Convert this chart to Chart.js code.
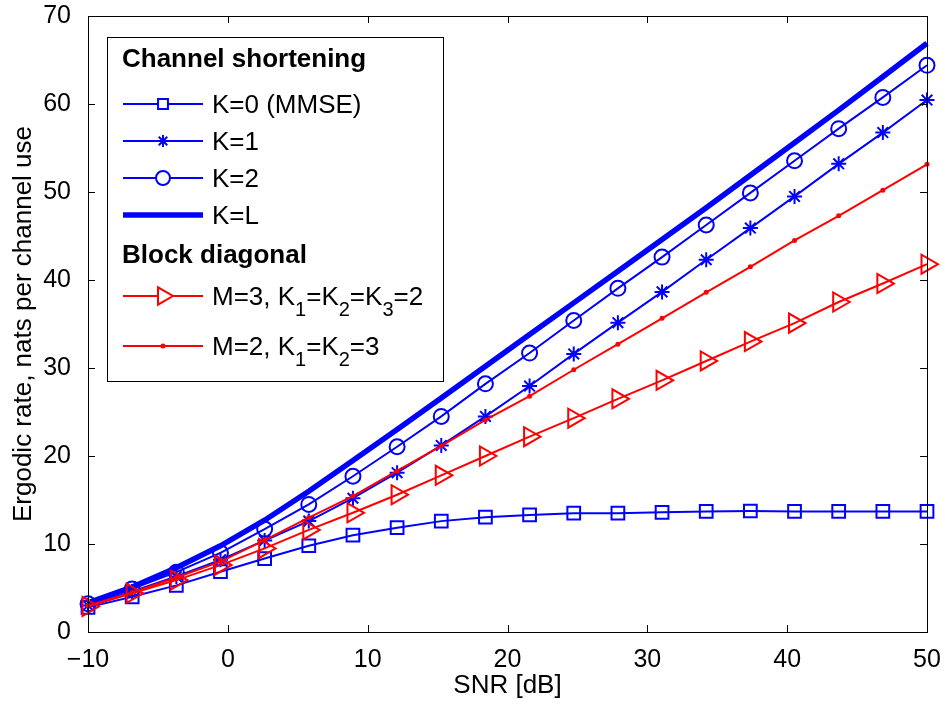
<!DOCTYPE html>
<html>
<head>
<meta charset="utf-8">
<script src="https://cdn.jsdelivr.net/npm/chart.js@4.4.0/dist/chart.umd.min.js"></script>
<style>
  html, body { margin: 0; padding: 0; background: #fff; }
  #wrap { width: 945px; height: 704px; }
</style>
</head>
<body>
<div id="wrap"><canvas id="rateChart" width="945" height="704"></canvas></div>
<script>
// SNR [dB] de cada punto
const snr = [-10, -6.842, -3.684, -0.526, 2.632, 5.789, 8.947, 12.105, 15.263, 18.421,
  21.579, 24.737, 27.895, 31.053, 34.211, 37.368, 40.526, 43.684, 46.842, 50];

// Channel shortening
const kMmse = [2.8, 4.0, 5.3, 6.85, 8.35, 9.8, 11.0, 11.85, 12.6, 13.05,
  13.3, 13.5, 13.5, 13.6, 13.7, 13.75, 13.7, 13.7, 13.7, 13.7];
const k1 = [3.0, 4.6, 6.3, 8.2, 10.4, 12.6, 15.2, 18.1, 21.2, 24.5,
  27.95, 31.6, 35.15, 38.65, 42.3, 45.9, 49.5, 53.2, 56.75, 60.45];
const k2 = [3.2, 4.9, 6.8, 9.0, 11.7, 14.5, 17.7, 21.05, 24.5, 28.2,
  31.7, 35.4, 39.05, 42.6, 46.25, 49.9, 53.55, 57.2, 60.75, 64.4];
const kL = [3.3, 5.1, 7.3, 9.8, 12.7, 16.0, 19.5, 23.0, 26.6, 30.2,
  33.8, 37.4, 41.0, 44.6, 48.2, 51.9, 55.6, 59.3, 63.1, 66.9];

// Block diagonal
const m3 = [2.9, 4.4, 5.9, 7.6, 9.5, 11.6, 13.55, 15.6, 17.8, 20.0,
  22.2, 24.3, 26.5, 28.6, 30.8, 33.0, 35.1, 37.5, 39.6, 41.8];
const m2 = [3.0, 4.5, 6.2, 8.0, 10.45, 13.0, 15.45, 18.3, 21.15, 24.1,
  26.8, 29.8, 32.7, 35.65, 38.6, 41.5, 44.5, 47.3, 50.2, 53.15];

// Ejes
const xMin = -10, xMax = 50, xStep = 10;
const yMin = 0, yMax = 70, yStep = 10;

const azul = '#0000FF';
const rojo = '#FF0000';
const fuente = "'Liberation Sans', Arial, Helvetica, sans-serif";
const nada = 'rgba(0,0,0,0)';

Chart.defaults.font.family = fuente;

const toPoints = ys => ys.map((y, i) => ({ x: snr[i], y }));

// Entradas de la leyenda (partes: [texto, esSubindice])
const leyenda = [
  { title: 'Channel shortening', base: 67 },
  { parts: [['K=0 (MMSE)']], color: azul, line: 2, style: 'rect', radius: 7, base: 113 },
  { parts: [['K=1']], color: azul, line: 2, style: 'star', radius: 6, base: 150 },
  { parts: [['K=2']], color: azul, line: 2, style: 'circle', radius: 7, base: 187 },
  { parts: [['K=L']], color: azul, line: 5.5, style: null, base: 224 },
  { title: 'Block diagonal', base: 263 },
  { parts: [['M=3, K'], ['1', true], ['=K'], ['2', true], ['=K'], ['3', true], ['=2']],
    color: rojo, line: 2, style: 'triangle', radius: 10, rotation: 90, base: 305 },
  { parts: [['M=2, K'], ['1', true], ['=K'], ['2', true], ['=3']],
    color: rojo, line: 2, style: 'dot', radius: 2.5, base: 355 }
];

function marcador(ctx, item, x, y) {
  ctx.save();
  ctx.strokeStyle = item.color;
  ctx.fillStyle = item.style === 'dot' ? item.color : '#fff';
  ctx.lineWidth = 2;
  const opts = {
    pointStyle: item.style === 'dot' ? 'circle' : item.style,
    radius: item.radius,
    rotation: item.rotation || 0,
    borderWidth: item.style === 'dot' ? 0 : 2
  };
  Chart.helpers.drawPoint(ctx, opts, x, y);
  ctx.restore();
}

const marcoPlugin = {
  id: 'marco',
  afterDatasetsDraw(chart) {
    const { ctx, chartArea: a, scales: { x, y } } = chart;
    const largo = 7;
    ctx.save();
    ctx.strokeStyle = '#000';
    ctx.lineWidth = 1;
    ctx.beginPath();
    x.ticks.forEach(t => {
      const px = Math.round(x.getPixelForValue(t.value)) + 0.5;
      ctx.moveTo(px, a.bottom); ctx.lineTo(px, a.bottom - largo);
      ctx.moveTo(px, a.top); ctx.lineTo(px, a.top + largo);
    });
    y.ticks.forEach(t => {
      const py = Math.round(y.getPixelForValue(t.value)) + 0.5;
      ctx.moveTo(a.left, py); ctx.lineTo(a.left + largo, py);
      ctx.moveTo(a.right, py); ctx.lineTo(a.right - largo, py);
    });
    ctx.stroke();
    ctx.strokeRect(Math.round(a.left) + 0.5, Math.round(a.top) + 0.5,
      Math.round(a.right - a.left), Math.round(a.bottom - a.top));
    ctx.restore();
  },
  afterDraw(chart) {
    const ctx = chart.ctx;
    const box = { x: 107.5, y: 37.5, w: 336, h: 344 };
    ctx.save();
    ctx.fillStyle = '#fff';
    ctx.fillRect(box.x, box.y, box.w, box.h);
    ctx.strokeStyle = '#000';
    ctx.lineWidth = 1;
    ctx.strokeRect(box.x, box.y, box.w, box.h);
    ctx.textBaseline = 'alphabetic';
    ctx.fillStyle = '#000';

    leyenda.forEach(item => {
      if (item.title) {
        ctx.font = `bold 26px ${fuente}`;
        ctx.fillText(item.title, 122, item.base);
        return;
      }
      const ly = item.base - 9;
      ctx.strokeStyle = item.color;
      ctx.lineWidth = item.line;
      ctx.beginPath();
      ctx.moveTo(123, ly);
      ctx.lineTo(203, ly);
      ctx.stroke();
      if (item.style) marcador(ctx, item, 163, ly);

      let tx = 212;
      ctx.fillStyle = '#000';
      item.parts.forEach(([txt, sub]) => {
        ctx.font = sub ? `20px ${fuente}` : `26px ${fuente}`;
        ctx.fillText(txt, tx, item.base + (sub ? 11 : 0));
        tx += ctx.measureText(txt).width;
      });
    });
    ctx.restore();
  }
};

const serie = (label, ys, extra) => Object.assign({
  label,
  data: toPoints(ys),
  borderWidth: 2,
  pointBorderWidth: 2,
  pointBackgroundColor: nada,
  tension: 0,
  clip: false
}, extra);

new Chart(document.getElementById('rateChart'), {
  type: 'line',
  data: {
    datasets: [
      serie('K=0 (MMSE)', kMmse, { borderColor: azul, pointBorderColor: azul, pointStyle: 'rect', pointRadius: 9, order: 6 }),
      serie('K=1', k1, { borderColor: azul, pointBorderColor: azul, pointStyle: 'star', pointRadius: 7.5, order: 5 }),
      serie('K=2', k2, { borderColor: azul, pointBorderColor: azul, pointStyle: 'circle', pointRadius: 7.5, order: 4 }),
      serie('K=L', kL, { borderColor: azul, borderWidth: 5.5, pointRadius: 0, order: 3 }),
      serie('M=3, K1=K2=K3=2', m3, { borderColor: rojo, pointBorderColor: rojo, pointStyle: 'triangle', pointRotation: 90, pointRadius: 11, order: 2 }),
      serie('M=2, K1=K2=3', m2, { borderColor: rojo, pointBorderColor: rojo, pointBackgroundColor: rojo, pointBorderWidth: 0, pointStyle: 'circle', pointRadius: 2.5, order: 1 })
    ]
  },
  options: {
    responsive: false,
    animation: false,
    layout: { padding: { left: 0, right: 18, top: 16, bottom: 0 } },
    plugins: {
      legend: { display: false },
      tooltip: { enabled: false }
    },
    scales: {
      x: {
        type: 'linear',
        min: xMin, max: xMax,
        ticks: {
          stepSize: xStep, color: '#000', padding: 5,
          font: { size: 25 },
          callback: v => String(v).replace('-', '\u2212')
        },
        grid: { display: false },
        border: { display: false },
        title: { display: true, text: 'SNR [dB]', color: '#000', font: { size: 26 }, padding: { top: 0, bottom: 3 } },
        afterFit: s => { s.height = 72; s.paddingLeft = 0; s.paddingRight = 0; }
      },
      y: {
        type: 'linear',
        min: yMin, max: yMax,
        ticks: { stepSize: yStep, color: '#000', padding: 9, font: { size: 25 } },
        grid: { display: false },
        border: { display: false },
        title: { display: true, text: 'Ergodic rate, nats per channel use', color: '#000', font: { size: 26 }, padding: { top: 8, bottom: 0 } },
        afterFit: s => { s.width = 88; s.paddingTop = 0; s.paddingBottom = 0; }
      }
    }
  },
  plugins: [marcoPlugin]
});
</script>
</body>
</html>
